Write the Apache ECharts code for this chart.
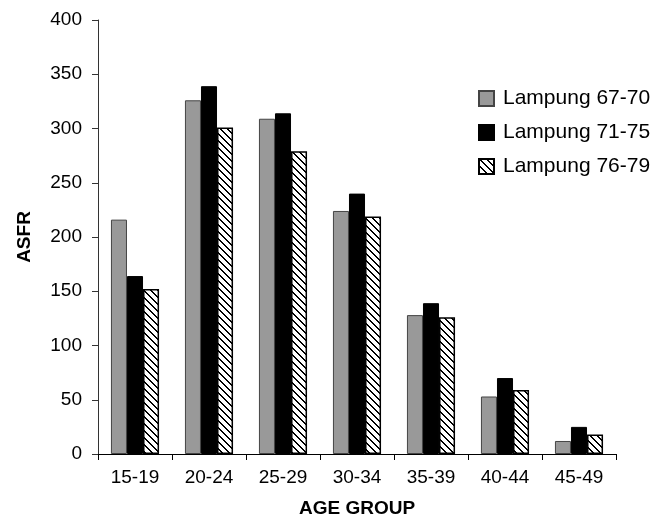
<!DOCTYPE html>
<html>
<head>
<meta charset="utf-8">
<script src="https://cdn.jsdelivr.net/npm/echarts@6/dist/echarts.min.js"></script>
<style>
html,body{margin:0;padding:0;background:#fff;}
#chart{width:650px;height:520px;}
</style>
</head>
<body>
<div id="chart"></div>
<script>
const categories = ['15-19','20-24','25-29','30-34','35-39','40-44','45-49'];
const seriesNames = ['Lampung 67-70','Lampung 71-75','Lampung 76-79'];
const lampung6770 = [216, 326, 309, 224, 128, 53, 12];
const lampung7175 = [164, 339, 314, 240, 139, 70, 25];
const lampung7679 = [152, 301, 279, 219, 126, 59, 18];
const yTicks = [0, 50, 100, 150, 200, 250, 300, 350, 400];

function makeHatch() {
  const s = 7;
  const c = document.createElement('canvas');
  c.width = s; c.height = s;
  const ctx = c.getContext('2d');
  const img = ctx.createImageData(s, s);
  for (let y = 0; y < s; y++) {
    for (let x = 0; x < s; x++) {
      const d = ((x - y) % s + s) % s;
      const black = d === 0 || d === 1;
      const i = (y * s + x) * 4;
      const v = black ? 0 : 255;
      img.data[i] = v; img.data[i+1] = v; img.data[i+2] = v; img.data[i+3] = 255;
    }
  }
  ctx.putImageData(img, 0, 0);
  return c;
}
const hatch = makeHatch();

const font = '"Liberation Sans", Arial, Helvetica, sans-serif';
const chart = echarts.init(document.getElementById('chart'), null, {renderer: 'canvas'});
const option = {
  animation: false,
  backgroundColor: '#fff',
  textStyle: {fontFamily: font},
  grid: {left: 98, right: 34, top: 20, bottom: 66, containLabel: false, outerBoundsMode: 'none'},
  legend: {
    orient: 'vertical',
    left: 473,
    top: 83,
    itemWidth: 15,
    itemHeight: 15,
    itemGap: 13,
    icon: 'rect',
    textStyle: {fontFamily: font, fontSize: 21, color: '#000', padding: [0,0,0,4]},
    data: seriesNames
  },
  xAxis: {
    type: 'category',
    data: categories,
    name: 'AGE GROUP',
    nameLocation: 'middle',
    nameGap: 45,
    nameTextStyle: {fontFamily: font, fontSize: 19, fontWeight: 'bold', color: '#000'},
    axisLine: {lineStyle: {color: '#000', width: 1}},
    axisTick: {show: true, length: 6, inside: false, alignWithLabel: false, lineStyle: {color: '#000'}},
    axisLabel: {fontFamily: font, fontSize: 19, color: '#000', margin: 14}
  },
  yAxis: {
    type: 'value',
    min: 0, max: 400, interval: 50,
    name: 'ASFR',
    nameLocation: 'middle',
    nameGap: 64,
    nameRotate: 90,
    nameTextStyle: {fontFamily: font, fontSize: 19, fontWeight: 'bold', color: '#000'},
    axisLine: {show: true, lineStyle: {color: '#333', width: 1}},
    axisTick: {show: true, length: 6, lineStyle: {color: '#333'}},
    axisLabel: {fontFamily: font, fontSize: 19, color: '#000', margin: 16,
      formatter: v => yTicks.includes(v) ? String(v) : ''},
    splitLine: {show: false}
  },
  series: [
    {name: seriesNames[0], type: 'bar', data: lampung6770, barGap: '0%', barCategoryGap: '35%',
     itemStyle: {color: '#999999', borderColor: '#444', borderWidth: 1}},
    {name: seriesNames[1], type: 'bar', data: lampung7175, barGap: '0%', barCategoryGap: '35%',
     itemStyle: {color: '#000', borderColor: '#000', borderWidth: 1}},
    {name: seriesNames[2], type: 'bar', data: lampung7679, barGap: '0%', barCategoryGap: '35%',
     itemStyle: {color: {image: hatch, repeat: 'repeat'}, borderColor: '#000', borderWidth: 1.5}}
  ]
};
chart.setOption(option);
</script>
</body>
</html>
